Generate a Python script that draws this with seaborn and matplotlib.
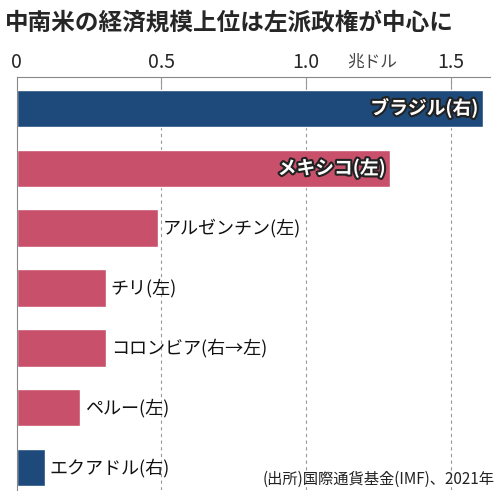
import matplotlib
matplotlib.use("Agg")
import matplotlib.pyplot as plt
import matplotlib.patheffects as pe
import pandas as pd
import seaborn as sns

countries = ["ブラジル(右)", "メキシコ(左)", "アルゼンチン(左)", "チリ(左)",
             "コロンビア(右→左)", "ペルー(左)", "エクアドル(右)"]
gdp = [1.61, 1.29, 0.49, 0.31, 0.31, 0.22, 0.10]
colors = ["#1d4a7a", "#c9506a", "#c9506a", "#c9506a", "#c9506a", "#c9506a", "#1d4a7a"]
inside = [True, True, False, False, False, False, False]
ticks = [0, 0.5, 1.0, 1.5]
tick_labels = ["0", "0.5", "1.0", "1.5"]

sns.set_style("white")
plt.rcParams['font.family'] = ['Noto Sans CJK JP', 'DejaVu Sans']

df = pd.DataFrame({"country": countries, "gdp": gdp})
fig = plt.figure(figsize=(5, 5), dpi=100)
ax = fig.add_axes([0.033, 0.02, 0.947, 0.826])
sns.barplot(data=df, x="gdp", y="country", hue="country", palette=colors,
            legend=False, width=0.62, ax=ax, saturation=1)

for t in ticks[1:]:
    ax.axvline(t, color="#999999", lw=0.8, ls=(0, (3, 3)), zorder=0)
    ax.plot([t, t], [-0.52, -0.3], color="#999999", lw=0.8, zorder=0)

for i, (c, v) in enumerate(zip(countries, gdp)):
    if inside[i]:
        ax.text(v - 0.015, i, c, ha="right", va="center", color="white",
                fontsize=13.5, fontweight="bold",
                path_effects=[pe.withStroke(linewidth=3, foreground="#222222")])
    else:
        ax.text(v + 0.015, i, c, ha="left", va="center", color="#111111", fontsize=13)

ax.set_xlim(0, 1.635)
ax.set_ylim(6.37, -0.52)
ax.xaxis.tick_top()
ax.set_xticks(ticks)
ax.set_xticklabels(tick_labels, fontsize=14)
ax.tick_params(axis="x", length=0, pad=3)
ax.set_yticks([])
ax.set_xlabel("")
ax.set_ylabel("")
for s in ["right", "bottom"]:
    ax.spines[s].set_visible(False)
ax.spines["top"].set_color("#888888")
ax.spines["left"].set_color("#888888")

fig.text(0.745, 0.858, "兆ドル", ha="center", va="bottom",
         fontsize=12, color="#444444")
fig.text(0.01, 0.978, "中南米の経済規模上位は左派政権が中心に", fontsize=17,
         fontweight="bold", va="top", ha="left")
fig.text(0.99, 0.025, "(出所)国際通貨基金(IMF)、2021年", fontsize=11,
         ha="right", va="bottom", color="#222222")

fig.savefig("out.png", dpi=100)
